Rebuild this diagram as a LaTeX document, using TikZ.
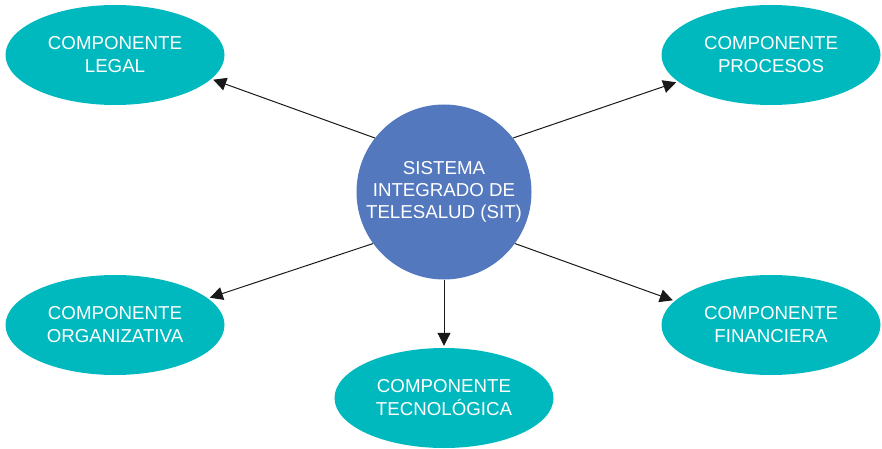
\documentclass[tikz,border=0pt]{standalone}
\usepackage{fontspec}
\setmainfont{Liberation Sans}
\usetikzlibrary{shapes.geometric,arrows.meta}
\definecolor{teal}{HTML}{00B9BE}
\definecolor{sitblue}{HTML}{5478BE}
\begin{document}
\begin{tikzpicture}[x=1pt,y=-1pt,
  comp/.style={ellipse,fill=teal,minimum width=219pt,minimum height=100pt,inner sep=0pt,
    text=white,align=center,font=\fontsize{18.7}{23}\selectfont},
  hub/.style={circle,fill=sitblue,minimum size=175pt,inner sep=0pt,
    text=white,align=center,font=\fontsize{18.7}{22}\selectfont},
  link/.style={draw=black!90,line width=1pt,-{Triangle[length=13pt,width=13pt]},shorten >=2pt}]
\useasboundingbox (0,0) rectangle (882,449);
\node[hub] (c) at (444,192) {SISTEMA\\INTEGRADO DE\\TELESALUD (SIT)};
\node[comp] (tl) at (115,55) {COMPONENTE\\LEGAL};
\node[comp] (tr) at (771,55) {COMPONENTE\\PROCESOS};
\node[comp] (ml) at (115,325) {COMPONENTE\\ORGANIZATIVA};
\node[comp] (mr) at (771,325) {COMPONENTE\\FINANCIERA};
\node[comp] (b) at (444,398) {COMPONENTE\\TECNOLÓGICA};
\draw[link] (c.142) -- (tl.-14);
\draw[link] (c.38) -- (tr.-164);
\draw[link] (c.216) -- (ml.16);
\draw[link] (c.-36) -- (mr.166);
\draw[link] (c.south) -- (b.north);
\end{tikzpicture}
\end{document}
